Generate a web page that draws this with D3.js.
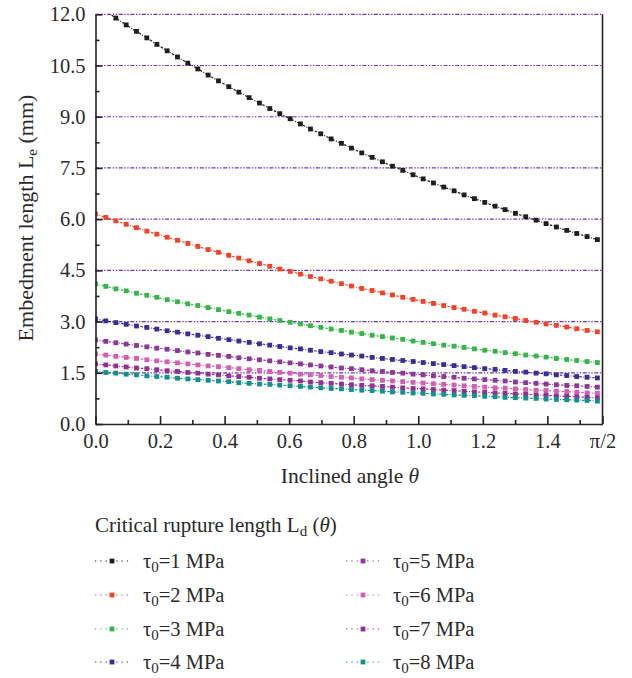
<!DOCTYPE html>
<html>
<head>
<meta charset="utf-8">
<script src="https://cdn.jsdelivr.net/npm/d3@7"></script>
<style>
  body { margin: 0; background: #fff; }
  svg { display: block; font-family: "Liberation Serif", "DejaVu Serif", serif; }
</style>
</head>
<body>
<script>
// inclined angle (rad), one value per marker
const theta = [0, 0.032, 0.063, 0.095, 0.127, 0.159, 0.190, 0.222, 0.254, 0.286,
  0.317, 0.349, 0.381, 0.413, 0.444, 0.476, 0.508, 0.540, 0.571, 0.603,
  0.635, 0.666, 0.698, 0.730, 0.762, 0.793, 0.825, 0.857, 0.889, 0.920,
  0.952, 0.984, 1.015, 1.047, 1.079, 1.111, 1.142, 1.174, 1.206, 1.238,
  1.269, 1.301, 1.333, 1.365, 1.396, 1.428, 1.460, 1.491, 1.523, 1.555]

// critical rupture length Ld (mm)
const tau1 = [12.30, 12.09, 11.89, 11.69, 11.50, 11.31, 11.12, 10.93, 10.75, 10.57,
  10.40, 10.22, 10.05, 9.88, 9.72, 9.56, 9.40, 9.24, 9.09, 8.94,
  8.79, 8.64, 8.50, 8.35, 8.22, 8.08, 7.94, 7.81, 7.68, 7.55,
  7.43, 7.30, 7.18, 7.06, 6.94, 6.83, 6.71, 6.60, 6.49, 6.38,
  6.28, 6.17, 6.07, 5.97, 5.87, 5.77, 5.67, 5.58, 5.49, 5.40]
const tau2 = [6.15, 6.05, 5.95, 5.85, 5.75, 5.65, 5.56, 5.47, 5.38, 5.29,
  5.20, 5.11, 5.03, 4.94, 4.86, 4.78, 4.70, 4.62, 4.54, 4.47,
  4.39, 4.32, 4.25, 4.18, 4.11, 4.04, 3.97, 3.91, 3.84, 3.78,
  3.71, 3.65, 3.59, 3.53, 3.47, 3.41, 3.36, 3.30, 3.25, 3.19,
  3.14, 3.09, 3.03, 2.98, 2.93, 2.89, 2.84, 2.79, 2.74, 2.70]
const tau3 = [4.10, 4.03, 3.96, 3.90, 3.83, 3.77, 3.71, 3.64, 3.58, 3.52,
  3.47, 3.41, 3.35, 3.29, 3.24, 3.19, 3.13, 3.08, 3.03, 2.98,
  2.93, 2.88, 2.83, 2.78, 2.74, 2.69, 2.65, 2.60, 2.56, 2.52,
  2.48, 2.43, 2.39, 2.35, 2.31, 2.28, 2.24, 2.20, 2.16, 2.13,
  2.09, 2.06, 2.02, 1.99, 1.96, 1.92, 1.89, 1.86, 1.83, 1.80]
const tau4 = [3.08, 3.02, 2.97, 2.92, 2.87, 2.83, 2.78, 2.73, 2.69, 2.64,
  2.60, 2.56, 2.51, 2.47, 2.43, 2.39, 2.35, 2.31, 2.27, 2.23,
  2.20, 2.16, 2.12, 2.09, 2.05, 2.02, 1.99, 1.95, 1.92, 1.89,
  1.86, 1.83, 1.80, 1.77, 1.74, 1.71, 1.68, 1.65, 1.62, 1.60,
  1.57, 1.54, 1.52, 1.49, 1.47, 1.44, 1.42, 1.39, 1.37, 1.35]
const tau5 = [2.46, 2.42, 2.38, 2.34, 2.30, 2.26, 2.22, 2.19, 2.15, 2.11,
  2.08, 2.04, 2.01, 1.98, 1.94, 1.91, 1.88, 1.85, 1.82, 1.79,
  1.76, 1.73, 1.70, 1.67, 1.64, 1.62, 1.59, 1.56, 1.54, 1.51,
  1.49, 1.46, 1.44, 1.41, 1.39, 1.37, 1.34, 1.32, 1.30, 1.28,
  1.26, 1.23, 1.21, 1.19, 1.17, 1.15, 1.13, 1.12, 1.10, 1.08]
const tau6 = [2.05, 2.02, 1.98, 1.95, 1.92, 1.88, 1.85, 1.82, 1.79, 1.76,
  1.73, 1.70, 1.68, 1.65, 1.62, 1.59, 1.57, 1.54, 1.51, 1.49,
  1.46, 1.44, 1.42, 1.39, 1.37, 1.35, 1.32, 1.30, 1.28, 1.26,
  1.24, 1.22, 1.20, 1.18, 1.16, 1.14, 1.12, 1.10, 1.08, 1.06,
  1.05, 1.03, 1.01, 0.99, 0.98, 0.96, 0.95, 0.93, 0.91, 0.90]
const tau7 = [1.76, 1.73, 1.70, 1.67, 1.64, 1.62, 1.59, 1.56, 1.54, 1.51,
  1.49, 1.46, 1.44, 1.41, 1.39, 1.37, 1.34, 1.32, 1.30, 1.28,
  1.26, 1.23, 1.21, 1.19, 1.17, 1.15, 1.13, 1.12, 1.10, 1.08,
  1.06, 1.04, 1.03, 1.01, 0.99, 0.98, 0.96, 0.94, 0.93, 0.91,
  0.90, 0.88, 0.87, 0.85, 0.84, 0.82, 0.81, 0.80, 0.78, 0.77]
const tau8 = [1.54, 1.51, 1.49, 1.46, 1.44, 1.41, 1.39, 1.37, 1.34, 1.32,
  1.30, 1.28, 1.26, 1.24, 1.21, 1.19, 1.17, 1.16, 1.14, 1.12,
  1.10, 1.08, 1.06, 1.04, 1.03, 1.01, 0.99, 0.98, 0.96, 0.94,
  0.93, 0.91, 0.90, 0.88, 0.87, 0.85, 0.84, 0.83, 0.81, 0.80,
  0.78, 0.77, 0.76, 0.75, 0.73, 0.72, 0.71, 0.70, 0.69, 0.67]

const seriesValues = [tau1, tau2, tau3, tau4, tau5, tau6, tau7, tau8]
const seriesNames = ["1", "2", "3", "4", "5", "6", "7", "8"]
const seriesColors = ["#1e1e1e", "#f0432a", "#38b54a", "#3a2d94", "#8c3899", "#d25fb0", "#922f96", "#12918a"]

const yTicks = [0, 1.5, 3, 4.5, 6, 7.5, 9, 10.5, 12]
const yMinor = [0.75, 2.25, 3.75, 5.25, 6.75, 8.25, 9.75, 11.25]
const xTicks = [0, 0.2, 0.4, 0.6, 0.8, 1.0, 1.2, 1.4, Math.PI / 2]
const xTickLabels = ["0.0", "0.2", "0.4", "0.6", "0.8", "1.0", "1.2", "1.4", "π/2"]
const xMinor = [0.1, 0.3, 0.5, 0.7, 0.9, 1.1, 1.3, 1.5]

const chartWidth = 632, chartHeight = 678
const plotLeft = 95.5, plotRight = 602.5, plotTop = 14.3, plotBottom = 424

const svg = d3.select("body").append("svg")
    .attr("width", chartWidth)
    .attr("height", chartHeight)

const x = d3.scaleLinear().domain([0, Math.PI / 2]).range([plotLeft, plotRight])
const y = d3.scaleLinear().domain([0, 12]).range([plotBottom, plotTop])

svg.append("clipPath").attr("id", "plotClip")
    .append("rect")
    .attr("x", plotLeft).attr("y", plotTop)
    .attr("width", plotRight - plotLeft).attr("height", plotBottom - plotTop)

// dash-dot-dot gridlines
svg.append("g").selectAll("line")
    .data(yTicks.filter(d => d > 0))
    .join("line")
    .attr("x1", plotLeft).attr("x2", plotRight)
    .attr("y1", d => y(d)).attr("y2", d => y(d))
    .attr("stroke", "#6c36b6")
    .attr("stroke-width", 1.2)
    .attr("stroke-dasharray", "4,1.6,1.4,1.6,1.4,1.6")

// curves
const plot = svg.append("g").attr("clip-path", "url(#plotClip)")
const line = d3.line().x((d, i) => x(theta[i])).y(d => y(d))
const markerSize = 4.8

seriesValues.forEach(function (values, k) {
    const color = seriesColors[k]
    plot.append("path")
        .attr("d", line(values))
        .attr("fill", "none")
        .attr("stroke", color)
        .attr("stroke-width", 1.2)
        .attr("stroke-dasharray", "2.5,1.5,1,1.5")
    plot.append("g").selectAll("rect")
        .data(values)
        .join("rect")
        .attr("x", (d, i) => x(theta[i]) - markerSize / 2)
        .attr("y", d => y(d) - markerSize / 2)
        .attr("width", markerSize)
        .attr("height", markerSize)
        .attr("fill", color)
})

// axes
svg.append("g")
    .attr("transform", "translate(" + plotLeft + ",0)")
    .call(d3.axisLeft(y).tickValues(yTicks).tickFormat(d3.format(".1f"))
        .tickSizeInner(-7).tickSizeOuter(0).tickPadding(10))
svg.append("g")
    .attr("transform", "translate(" + plotLeft + ",0)")
    .call(d3.axisLeft(y).tickValues(yMinor).tickFormat("")
        .tickSizeInner(-4).tickSizeOuter(0))
    .select(".domain").remove()

svg.append("g")
    .attr("transform", "translate(0," + plotBottom + ")")
    .call(d3.axisBottom(x).tickValues(xTicks).tickFormat((d, i) => xTickLabels[i])
        .tickSizeInner(-8).tickSizeOuter(0).tickPadding(9))
svg.append("g")
    .attr("transform", "translate(0," + plotBottom + ")")
    .call(d3.axisBottom(x).tickValues(xMinor).tickFormat("")
        .tickSizeInner(-4).tickSizeOuter(0))
    .select(".domain").remove()

svg.selectAll(".domain, .tick line")
    .attr("stroke", "#222")
    .attr("stroke-width", 1.6)
svg.selectAll(".tick text")
    .attr("font-family", "Liberation Serif, DejaVu Serif, serif")
    .attr("font-size", 20.5)
    .attr("fill", "#2a2a2a")

svg.append("line")
    .attr("x1", plotRight).attr("x2", plotRight)
    .attr("y1", plotTop).attr("y2", plotBottom)
    .attr("stroke", "#222")
    .attr("stroke-width", 1.6)

// axis titles
const yTitle = svg.append("text")
    .attr("transform", "translate(25,218) rotate(-90)")
    .attr("text-anchor", "middle")
    .attr("dy", "0.35em")
    .attr("font-size", 22)
    .attr("fill", "#2a2a2a")
yTitle.append("tspan").text("Embedment length L")
yTitle.append("tspan").attr("font-size", 15).attr("dy", 4).text("e")
yTitle.append("tspan").attr("dy", -4).text(" (mm)")

const xTitle = svg.append("text")
    .attr("x", 350).attr("y", 483)
    .attr("text-anchor", "middle")
    .attr("font-size", 21.5)
    .attr("fill", "#2a2a2a")
xTitle.append("tspan").text("Inclined angle ")
xTitle.append("tspan").attr("font-style", "italic").text("θ")

// legend
const legendTitle = svg.append("text")
    .attr("x", 95).attr("y", 531.5)
    .attr("font-size", 21)
    .attr("fill", "#2a2a2a")
legendTitle.append("tspan").text("Critical rupture length L")
legendTitle.append("tspan").attr("font-size", 15).attr("dy", 4).text("d")
legendTitle.append("tspan").attr("dy", -4).text(" (")
legendTitle.append("tspan").attr("font-style", "italic").text("θ")
legendTitle.append("tspan").text(")")

const legendRows = [561, 595, 629, 662]
const legendCols = [{ x1: 95, x2: 129, text: 143 }, { x1: 346, x2: 380, text: 393 }]

seriesNames.forEach(function (name, k) {
    const col = legendCols[Math.floor(k / 4)]
    const cy = legendRows[k % 4]
    const item = svg.append("g")
    item.append("line")
        .attr("x1", col.x1).attr("x2", col.x2)
        .attr("y1", cy).attr("y2", cy)
        .attr("stroke", seriesColors[k])
        .attr("stroke-width", 1.2)
        .attr("stroke-dasharray", "1.3,4")
    item.append("rect")
        .attr("x", (col.x1 + col.x2) / 2 - markerSize / 2)
        .attr("y", cy - markerSize / 2)
        .attr("width", markerSize).attr("height", markerSize)
        .attr("fill", seriesColors[k])
    const label = item.append("text")
        .attr("x", col.text).attr("y", cy + 7)
        .attr("font-size", 20.5)
        .attr("fill", "#2a2a2a")
    label.append("tspan").text("τ")
    label.append("tspan").attr("font-size", 15).attr("dy", 4).text("0")
    label.append("tspan").attr("dy", -4).text("=" + name + " MPa")
})
</script>
</body>
</html>
